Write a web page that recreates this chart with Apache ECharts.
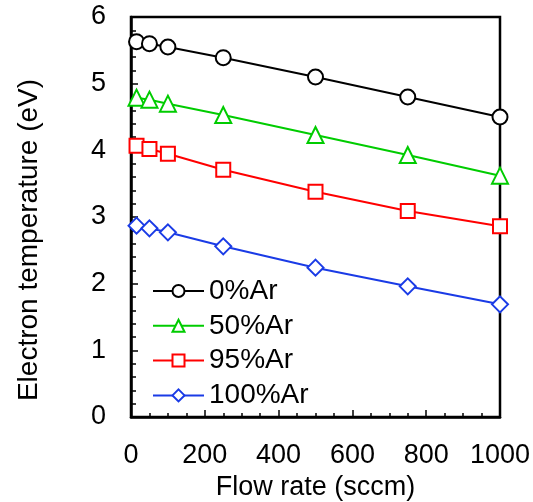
<!DOCTYPE html>
<html>
<head>
<meta charset="utf-8">
<script src="https://cdn.jsdelivr.net/npm/echarts@6/dist/echarts.min.js"></script>
<style>
  html, body { margin: 0; padding: 0; background: #fff; }
  #chart { width: 533px; height: 502px; }
</style>
</head>
<body>
<div id="chart"></div>
<script>
// Flow rates (sccm) and electron temperature (eV) for each Ar fraction
const flowRates = [15, 50, 100, 250, 500, 750, 1000];
const ar0   = [5.63, 5.60, 5.55, 5.39, 5.10, 4.80, 4.50];
const ar50  = [4.79, 4.76, 4.70, 4.53, 4.23, 3.93, 3.62];
const ar95  = [4.07, 4.02, 3.95, 3.71, 3.38, 3.09, 2.86];
const ar100 = [2.87, 2.83, 2.77, 2.56, 2.24, 1.96, 1.69];
const seriesNames = ['0%Ar', '50%Ar', '95%Ar', '100%Ar'];
const xTicks = [0, 200, 400, 600, 800, 1000];
const yTicks = [0, 1, 2, 3, 4, 5, 6];
const yTitle = 'Electron temperature (eV)';

const FONT = 'Arial, "Liberation Sans", sans-serif';

function pairs(ys) { return flowRates.map((x, i) => [x, ys[i]]); }

function makeSeries(name, ys, color, symbol, size) {
  return {
    name: name,
    type: 'line',
    data: pairs(ys),
    symbol: symbol,
    symbolSize: size,
    showAllSymbol: true,
    lineStyle: { color: color, width: 2 },
    itemStyle: { color: '#fff', borderColor: color, borderWidth: 2 },
    emphasis: { disabled: true },
    animation: false,
    z: 3
  };
}

const chart = echarts.init(document.getElementById('chart'), null, { renderer: 'canvas' });

chart.setOption({
  animation: false,
  backgroundColor: '#fff',
  grid: {
    left: 131, right: 33, top: 17, bottom: 85,
    outerBoundsMode: 'none',
    containLabel: false,
    show: true, borderColor: '#000', borderWidth: 2.5, backgroundColor: 'transparent'
  },
  // vertical axis title, set a little below the plot's middle
  graphic: [{
    type: 'text',
    x: 29,
    y: 240,
    rotation: Math.PI / 2,
    style: {
      text: yTitle,
      fontFamily: FONT,
      fontSize: 28,
      fill: '#000',
      align: 'center',
      verticalAlign: 'middle'
    }
  }],
  legend: {
    data: seriesNames,
    orient: 'vertical',
    left: 152,
    top: 277,
    itemWidth: 51,
    itemHeight: 15,
    itemGap: 6.8,
    padding: 0,
    selectedMode: false,
    textStyle: { fontFamily: FONT, fontSize: 28, color: '#000', lineHeight: 27, padding: [0, 0, 0, 0] }
  },
  xAxis: {
    type: 'value',
    min: xTicks[0],
    max: xTicks[xTicks.length - 1],
    interval: 200,
    name: 'Flow rate (sccm)',
    nameLocation: 'middle',
    nameGap: 53,
    nameTextStyle: { fontFamily: FONT, fontSize: 27, color: '#000' },
    axisLine: { show: true, onZero: false, lineStyle: { color: '#000', width: 2.5 } },
    axisTick: { show: true, inside: true, length: 7, lineStyle: { color: '#000', width: 1.5 } },
    minorTick: { show: true, splitNumber: 4, length: 4, lineStyle: { color: '#000', width: 1.5 } },
    splitLine: { show: false },
    axisLabel: { fontFamily: FONT, fontSize: 27, color: '#000', margin: 25, formatter: v => String(v) }
  },
  yAxis: {
    type: 'value',
    min: yTicks[0],
    max: yTicks[yTicks.length - 1],
    interval: 1,
    axisLine: { show: true, onZero: false, lineStyle: { color: '#000', width: 2.5 } },
    axisTick: { show: true, inside: true, length: 7, lineStyle: { color: '#000', width: 1.5 } },
    minorTick: { show: true, splitNumber: 5, length: 5, lineStyle: { color: '#000', width: 1.5 } },
    splitLine: { show: false },
    axisLabel: { fontFamily: FONT, fontSize: 27, color: '#000', margin: 25, formatter: v => String(v) }
  },
  series: [
    makeSeries(seriesNames[0], ar0, '#000000', 'circle', 15),
    makeSeries(seriesNames[1], ar50, '#00cc00', 'triangle', 16),
    makeSeries(seriesNames[2], ar95, '#ff0000', 'rect', 14),
    makeSeries(seriesNames[3], ar100, '#1a3be6', 'diamond', 16)
  ]
});
</script>
</body>
</html>
